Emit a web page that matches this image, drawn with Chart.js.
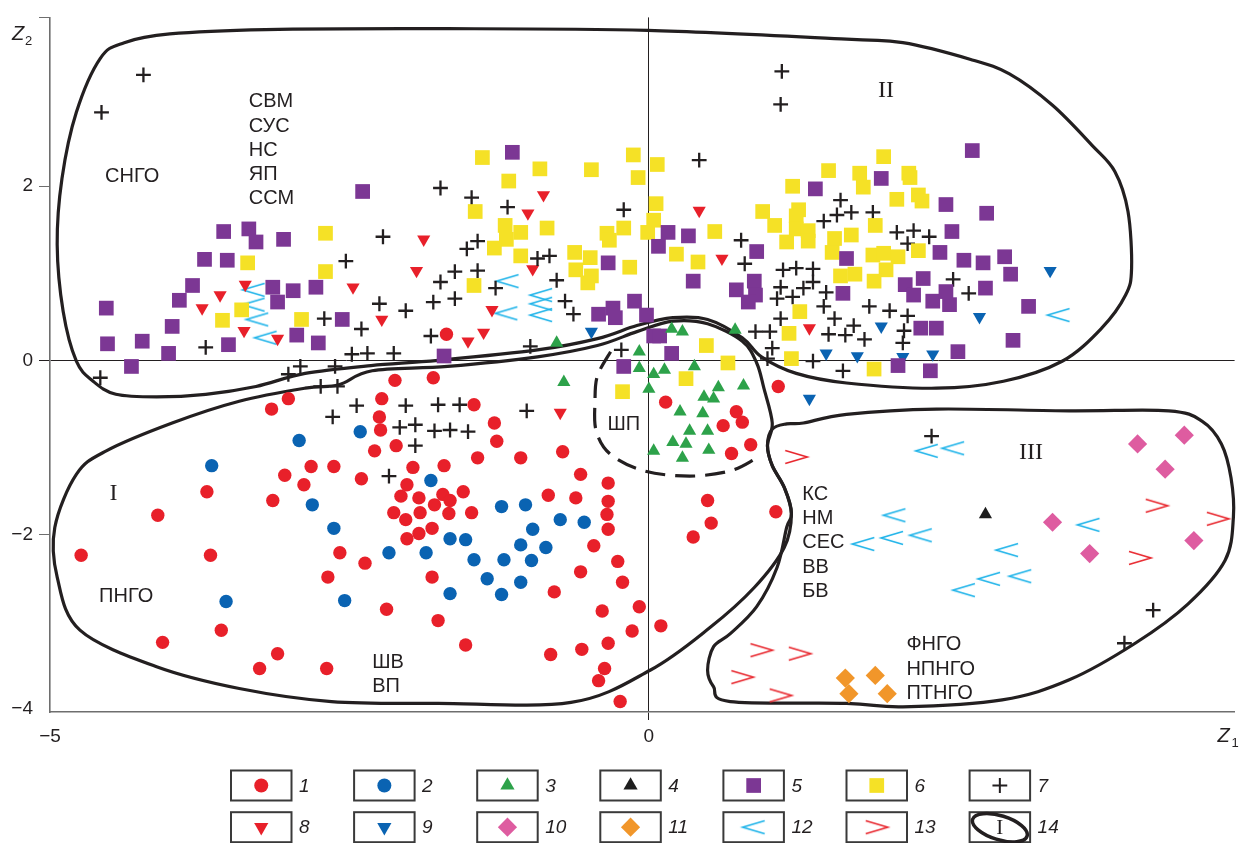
<!DOCTYPE html>
<html>
<head>
<meta charset="utf-8">
<script src="https://cdn.jsdelivr.net/npm/chart.js@4.4.1/dist/chart.umd.min.js"></script>
<style>
  html, body { margin: 0; padding: 0; background: #ffffff; }
  #wrap { width: 1245px; height: 843px; }
</style>
</head>
<body>
<div id="wrap"><canvas id="c" width="1245" height="843"></canvas></div>
<script>
// ---- axis ranges and ticks ----
const xRange = [-5, 4.89];
const yRange = [-4.04, 3.94];
const xTickValues = [-5, 0];
const yTickValues = [-4, -2, 0, 2, 3.94];

// ---- legend labels (series 1..13, item 14 = region outline) ----
const seriesLabels = ['1','2','3','4','5','6','7','8','9','10','11','12','13'];
const outlineLabel = '14';

// ---- point series (Z1, Z2) ----
const s1 = [[-1.69,0.30],[-2.12,-0.23],[-1.80,-0.20],[-3.01,-0.44],[-3.15,-0.56],[-2.23,-0.44],[-2.25,-0.65],[-2.24,-0.80],[-2.29,-1.04],[-2.11,-0.98],[-2.82,-1.22],[-2.63,-1.22],[-3.04,-1.32],[-2.88,-1.43],[-2.40,-1.36],[-1.97,-1.23],[-2.02,-1.43],[-2.07,-1.56],[-1.92,-1.58],[-1.79,-1.66],[-2.13,-1.75],[-2.03,-1.83],[-1.91,-1.75],[-1.81,-1.93],[-1.92,-1.99],[-2.02,-2.05],[-3.14,-1.61],[-3.69,-1.51],[-4.10,-1.78],[-4.74,-2.24],[-3.66,-2.24],[-2.58,-2.21],[-2.37,-2.33],[-2.68,-2.49],[-1.81,-2.49],[-2.19,-2.86],[-3.57,-3.10],[-4.06,-3.24],[-3.10,-3.37],[-3.25,-3.54],[-2.69,-3.54],[-1.46,-0.51],[-1.29,-0.72],[-1.27,-0.93],[-1.43,-1.12],[-1.07,-1.12],[-0.72,-1.05],[-1.71,-1.21],[-0.57,-1.31],[-0.34,-1.41],[-1.72,-1.54],[-1.66,-1.61],[-1.55,-1.51],[-1.67,-1.76],[-1.48,-1.75],[-0.84,-1.55],[-0.61,-1.58],[-0.34,-1.62],[-0.35,-1.77],[-0.34,-1.94],[-0.46,-2.13],[-0.26,-2.31],[-0.57,-2.43],[-0.22,-2.55],[-0.79,-2.66],[-1.76,-2.99],[-0.39,-2.88],[-0.08,-2.83],[0.10,-3.05],[-0.14,-3.11],[-1.53,-3.27],[-0.82,-3.38],[-0.56,-3.32],[-0.34,-3.25],[-0.37,-3.54],[-0.42,-3.68],[-0.24,-3.92],[0.14,-0.48],[0.73,-0.59],[0.78,-0.71],[0.62,-0.75],[0.85,-0.97],[0.69,-1.07],[1.08,-0.30],[0.49,-1.61],[0.52,-1.87],[0.37,-2.03],[1.06,-1.74]];
const s2 = [[-2.41,-0.82],[-2.92,-0.92],[-3.65,-1.21],[-2.81,-1.66],[-2.63,-1.93],[-1.82,-1.38],[-2.17,-2.21],[-1.86,-2.21],[-2.54,-2.76],[-3.53,-2.77],[-1.23,-1.68],[-1.03,-1.66],[-0.74,-1.83],[-0.54,-1.86],[-0.97,-1.94],[-1.66,-2.05],[-1.53,-2.06],[-1.07,-2.12],[-0.86,-2.15],[-1.46,-2.29],[-1.21,-2.29],[-0.98,-2.30],[-1.35,-2.51],[-1.07,-2.55],[-1.23,-2.69],[-1.66,-2.68]];
const s3 = [[-0.77,0.20],[-0.08,0.10],[0.19,0.36],[0.28,0.33],[0.72,0.35],[-0.71,-0.25],[-0.08,-0.09],[0.04,-0.16],[0.13,-0.11],[0.38,-0.07],[0.00,-0.33],[0.58,-0.31],[0.79,-0.29],[0.46,-0.42],[0.54,-0.44],[0.26,-0.59],[0.45,-0.61],[0.34,-0.81],[0.49,-0.81],[0.20,-0.94],[0.31,-0.96],[0.04,-1.04],[0.28,-1.12],[0.50,-1.03]];
const s4 = [[2.81,-1.77]];
const s5 = [[-2.39,1.94],[-3.55,1.48],[-3.34,1.51],[-3.28,1.36],[-3.05,1.39],[-3.71,1.16],[-3.52,1.15],[-3.81,0.86],[-3.92,0.69],[-4.53,0.60],[-3.14,0.84],[-2.97,0.80],[-2.78,0.84],[-3.10,0.67],[-2.56,0.47],[-3.98,0.39],[-4.52,0.19],[-4.23,0.22],[-4.01,0.08],[-3.51,0.18],[-2.94,0.29],[-2.76,0.20],[-4.32,-0.07],[-1.71,0.05],[-1.14,2.39],[1.39,1.97],[0.16,1.47],[0.33,1.43],[0.08,1.31],[-0.34,1.12],[0.37,0.91],[0.73,0.81],[0.88,0.91],[0.89,0.75],[0.83,0.67],[0.90,1.25],[-0.12,0.68],[-0.30,0.60],[-0.42,0.53],[-0.28,0.49],[-0.02,0.52],[0.04,0.28],[0.09,0.28],[0.19,0.08],[-0.21,-0.07],[1.65,1.17],[1.62,0.77],[2.70,2.41],[1.94,2.09],[2.48,1.79],[2.82,1.69],[2.53,1.48],[2.43,1.24],[2.63,1.15],[2.79,1.12],[2.97,1.19],[3.02,0.99],[2.81,0.83],[3.17,0.62],[2.14,0.87],[2.29,0.94],[2.21,0.75],[2.37,0.68],[2.48,0.79],[2.51,0.64],[2.27,0.37],[2.40,0.37],[3.04,0.23],[2.58,0.10],[2.08,-0.06],[2.35,-0.12]];
const s6 = [[-3.35,1.12],[-2.70,1.46],[-2.70,1.02],[-3.40,0.58],[-3.56,0.46],[-2.90,0.47],[-1.39,2.33],[-0.91,2.20],[-1.17,2.06],[-0.48,2.19],[-0.13,2.36],[-0.09,2.10],[0.07,2.25],[0.06,1.80],[0.04,1.61],[-0.01,1.47],[-1.45,1.71],[-1.20,1.55],[-1.07,1.47],[-0.85,1.52],[-1.19,1.39],[-1.29,1.29],[-1.07,1.20],[-0.35,1.46],[-0.33,1.38],[-0.21,1.52],[-0.62,1.24],[-0.49,1.18],[-0.61,1.04],[-0.48,0.97],[-0.51,0.89],[-0.16,1.07],[-1.46,0.86],[0.23,1.22],[0.41,1.13],[0.55,1.48],[0.48,0.17],[0.66,-0.03],[1.17,0.31],[1.19,0.02],[1.26,0.56],[0.95,1.71],[1.05,1.55],[1.20,2.00],[1.25,1.73],[1.23,1.66],[1.23,1.51],[1.33,1.49],[1.15,1.36],[1.33,1.37],[1.50,2.18],[1.55,1.40],[1.53,1.24],[1.60,0.97],[1.96,2.34],[1.76,2.15],[1.79,1.99],[2.17,2.15],[2.18,2.10],[2.07,1.85],[2.25,1.90],[2.28,1.83],[1.89,1.55],[1.69,1.44],[1.87,1.21],[1.96,1.23],[2.08,1.19],[2.25,1.26],[1.98,1.04],[1.88,0.91],[1.72,0.99],[1.88,-0.10],[-0.22,-0.36],[0.31,-0.21]];
const s7 = [[-4.22,3.28],[-4.57,2.85],[-1.74,1.98],[-2.22,1.42],[-2.53,1.14],[-1.74,0.90],[-2.25,0.65],[-2.03,0.57],[-1.80,0.67],[-2.71,0.48],[-2.40,0.36],[-1.82,0.28],[-3.70,0.15],[-2.48,0.07],[-2.35,0.08],[-2.13,0.08],[1.11,3.32],[1.10,2.94],[0.42,2.30],[-1.48,1.87],[-1.18,1.76],[-0.21,1.73],[-1.43,1.37],[-1.52,1.28],[-0.93,1.17],[-0.83,1.20],[-1.62,1.02],[-1.43,1.03],[-1.28,0.83],[-0.77,0.92],[-1.62,0.71],[-0.70,0.68],[-0.63,0.53],[-0.99,0.16],[-0.23,0.12],[0.77,1.38],[0.80,1.11],[1.60,1.84],[1.57,1.67],[1.46,1.60],[1.12,1.04],[1.23,1.06],[1.37,1.05],[1.10,0.84],[1.29,0.83],[1.37,0.90],[1.48,0.78],[1.07,0.71],[1.20,0.73],[1.46,0.62],[1.55,0.48],[1.10,0.48],[0.89,0.33],[1.01,0.33],[1.50,0.30],[1.64,0.29],[1.03,0.14],[0.99,0.02],[1.37,-0.01],[1.69,1.70],[1.87,1.70],[2.07,1.47],[2.21,1.49],[2.34,1.42],[2.16,1.34],[2.54,0.93],[2.67,0.77],[1.84,0.62],[2.01,0.57],[2.16,0.51],[1.71,0.40],[1.80,0.24],[2.13,0.34],[2.12,0.20],[1.62,-0.12],[-4.58,-0.20],[-3.01,-0.16],[-2.91,-0.07],[-2.62,-0.07],[-2.74,-0.30],[-2.60,-0.30],[-2.44,-0.52],[-2.64,-0.65],[-2.03,-0.52],[-2.08,-0.77],[-1.95,-0.74],[-1.79,-0.81],[-1.95,-0.98],[-2.17,-1.33],[-1.76,-0.51],[-1.58,-0.51],[-1.02,-0.58],[-1.66,-0.80],[-1.51,-0.82],[2.36,-0.87],[4.21,-2.87],[3.97,-3.25]];
const s8 = [[-1.88,1.39],[-1.94,1.03],[-2.47,0.84],[-3.58,0.75],[-3.73,0.60],[-3.37,0.87],[-3.38,0.34],[-3.10,0.25],[-2.23,0.47],[-0.88,1.90],[-1.01,1.69],[-0.97,1.05],[-1.31,0.58],[-1.38,0.32],[-1.51,0.22],[0.42,1.72],[0.61,1.17],[1.34,0.37],[-0.74,-0.60]];
const s9 = [[-0.48,0.33],[1.48,0.08],[3.35,1.03],[2.76,0.50],[1.94,0.39],[1.74,0.05],[2.12,0.04],[2.37,0.07],[1.34,-0.44]];
const s10 = [[4.08,-0.96],[4.47,-0.86],[4.31,-1.25],[3.37,-1.86],[3.68,-2.22],[4.55,-2.07]];
const s11 = [[1.64,-3.65],[1.89,-3.62],[1.67,-3.83],[1.99,-3.83]];
const s12 = [[-3.30,0.81],[-3.30,0.64],[-3.27,0.47],[-3.20,0.26],[-1.18,0.91],[-0.90,0.75],[-0.90,0.65],[-0.90,0.52],[-1.19,0.54],[3.42,0.52],[2.32,-1.04],[2.54,-1.01],[2.05,-1.78],[1.79,-2.11],[2.03,-2.04],[2.27,-2.01],[2.99,-2.18],[2.84,-2.51],[3.10,-2.48],[2.63,-2.64],[3.67,-1.89]];
const s13 = [[1.23,-1.11],[0.94,-3.33],[1.26,-3.37],[0.78,-3.64],[1.10,-3.85],[4.24,-1.67],[4.75,-1.82],[4.10,-2.27]];

// ---- region outlines (Z1, Z2) ----
const regionI = [[-4.96,-1.92],[-4.78,-1.31],[-4.53,-1.04],[-3.98,-0.72],[-3.42,-0.47],[-2.87,-0.32],[-2.59,-0.28],[-2.31,-0.12],[-1.68,-0.07],[-0.93,0.04],[-0.43,0.17],[-0.10,0.33],[0.20,0.45],[0.49,0.42],[0.78,0.22],[0.90,-0.03],[0.96,-0.32],[1.03,-0.72],[0.99,-0.98],[1.03,-1.21],[1.13,-1.46],[1.19,-1.76],[1.13,-2.15],[0.88,-2.61],[0.51,-3.07],[0.01,-3.56],[-0.65,-3.93],[-1.76,-3.94],[-2.65,-3.92],[-3.42,-3.77],[-4.11,-3.52],[-4.75,-3.10],[-4.94,-2.49]];
const regionII = [[-4.38,3.65],[-4.00,3.75],[-3.20,3.80],[-1.68,3.81],[-0.01,3.79],[1.65,3.69],[2.12,3.65],[2.68,3.46],[3.01,3.29],[3.37,2.93],[3.70,2.47],[3.89,2.17],[4.00,1.71],[4.03,1.06],[3.98,0.75],[3.78,0.37],[3.45,-0.01],[2.96,-0.24],[2.40,-0.32],[1.65,-0.26],[1.23,-0.15],[0.94,0.04],[0.78,0.26],[0.49,0.47],[0.20,0.49],[-0.10,0.40],[-0.43,0.25],[-0.93,0.12],[-1.76,0.00],[-2.32,-0.06],[-2.87,-0.15],[-3.28,-0.30],[-3.70,-0.39],[-4.11,-0.42],[-4.45,-0.39],[-4.64,-0.24],[-4.78,-0.01],[-4.89,0.56],[-4.94,1.33],[-4.90,2.09],[-4.78,2.85],[-4.58,3.47]];
const regionIII = [[1.03,-0.79],[1.15,-0.73],[1.29,-0.72],[1.65,-0.62],[2.40,-0.56],[3.51,-0.58],[4.34,-0.58],[4.62,-0.70],[4.78,-0.96],[4.86,-1.35],[4.88,-1.80],[4.81,-2.30],[4.50,-2.80],[4.06,-3.25],[3.51,-3.67],[2.95,-3.90],[2.12,-3.98],[1.65,-3.94],[0.68,-3.92],[0.54,-3.75],[0.49,-3.56],[0.54,-3.29],[0.68,-3.14],[0.90,-2.83],[1.07,-2.38],[1.15,-1.92],[1.19,-1.76],[1.13,-1.46],[1.03,-1.21],[0.99,-0.98]];
const zoneShp = [[-0.32,0.10],[-0.43,-0.18],[-0.45,-0.47],[-0.44,-0.81],[-0.32,-1.08],[-0.04,-1.27],[0.34,-1.33],[0.68,-1.27],[0.88,-1.14]];

// ---- text annotations (anchor in Z1, Z2) ----
const groupLabels = [
  { lines: ['СНГО'], x: -4.54, y: 2.11, align: 'left' },
  { lines: ['СВМ', 'СУС', 'НС', 'ЯП', 'ССМ'], x: -3.34, y: 2.97, align: 'left' },
  { lines: ['ПНГО'], x: -4.59, y: -2.71, align: 'left' },
  { lines: ['ШВ', 'ВП'], x: -2.31, y: -3.47, align: 'left' },
  { lines: ['ШП'], x: -0.21, y: -0.74, align: 'center' },
  { lines: ['КС', 'НМ', 'СЕС', 'ВВ', 'БВ'], x: 1.28, y: -1.54, align: 'left' },
  { lines: ['ФНГО', 'НПНГО', 'ПТНГО'], x: 2.15, y: -3.27, align: 'left' }
];
const regionNames = [
  { text: 'I', x: -4.47, y: -1.53 },
  { text: 'II', x: 1.98, y: 3.10 },
  { text: 'III', x: 3.19, y: -1.06 }
];

// ---- drawing helpers ----
const INK = '#231f20';
const SANS = '"Liberation Sans", Arial, Helvetica, sans-serif';
const SERIF = '"Liberation Serif", "Times New Roman", serif';

function chevron(dir, color) {
  const c = document.createElement('canvas');
  c.width = 30; c.height = 20;
  const g = c.getContext('2d');
  g.strokeStyle = color; g.lineWidth = 1.6; g.lineJoin = 'miter'; g.miterLimit = 10;
  g.beginPath();
  if (dir === '<') { g.moveTo(26, 3.5); g.lineTo(4, 10); g.lineTo(26, 16.5); }
  else { g.moveTo(4, 3.5); g.lineTo(26, 10); g.lineTo(4, 16.5); }
  g.stroke();
  return c;
}

const seriesStyles = [
  { data: s1, style: 'circle', r: 6.7, color: '#e8202a' },
  { data: s2, style: 'circle', r: 6.7, color: '#0a63b2' },
  { data: s3, style: 'triangle', r: 7.6, color: '#2da24a' },
  { data: s4, style: 'triangle', r: 7.6, color: '#1e1e1e' },
  { data: s5, style: 'rect', r: 10.4, color: '#7c3794' },
  { data: s6, style: 'rect', r: 10.4, color: '#f5e126' },
  { data: s7, style: 'cross', r: 7.4, color: INK, line: 2.3 },
  { data: s8, style: 'triangle', r: 7.6, color: '#e8202a', rot: 180 },
  { data: s9, style: 'triangle', r: 7.6, color: '#0a63b2', rot: 180 },
  { data: s10, style: 'rectRot', r: 9.6, color: '#de5ca0' },
  { data: s11, style: 'rectRot', r: 9.6, color: '#f1962a' },
  { data: s12, style: chevron('<', '#1db3e9'), r: 10, color: '#1db3e9' },
  { data: s13, style: chevron('>', '#e8262d'), r: 10, color: '#e8262d' }
];

function tracePath(ctx, pts, closed) {
  const n = pts.length;
  const P = i => closed ? pts[(i + n) % n] : pts[Math.max(0, Math.min(n - 1, i))];
  ctx.moveTo(pts[0][0], pts[0][1]);
  const segs = closed ? n : n - 1;
  for (let i = 0; i < segs; i++) {
    const p0 = P(i - 1), p1 = P(i), p2 = P(i + 1), p3 = P(i + 2);
    ctx.bezierCurveTo(
      p1[0] + (p2[0] - p0[0]) / 6, p1[1] + (p2[1] - p0[1]) / 6,
      p2[0] - (p3[0] - p1[0]) / 6, p2[1] - (p3[1] - p1[1]) / 6,
      p2[0], p2[1]);
  }
  if (closed) ctx.closePath();
}

// region outlines, drawn under the points
const outlinePlugin = {
  id: 'outlines',
  beforeDatasetsDraw(chart) {
    const { ctx, scales: { x, y } } = chart;
    const px = pts => pts.map(p => [x.getPixelForValue(p[0]), y.getPixelForValue(p[1])]);
    ctx.save();
    ctx.strokeStyle = INK;
    ctx.lineWidth = 3.2;
    ctx.lineJoin = 'round';
    [regionI, regionII, regionIII].forEach(r => {
      ctx.beginPath(); tracePath(ctx, px(r), true); ctx.stroke();
    });
    ctx.setLineDash([20, 10]);
    ctx.beginPath(); tracePath(ctx, px(zoneShp), false); ctx.stroke();
    ctx.restore();
  }
};

// group names, region numerals, axis titles and the boxed legend
const annotationPlugin = {
  id: 'annotations',
  afterDraw(chart) {
    const { ctx, chartArea, scales: { x, y } } = chart;
    ctx.save();
    ctx.fillStyle = INK;
    ctx.textBaseline = 'middle';
    ctx.font = '20px ' + SANS;
    groupLabels.forEach(g => {
      ctx.textAlign = g.align;
      const x0 = x.getPixelForValue(g.x), y0 = y.getPixelForValue(g.y);
      g.lines.forEach((t, i) => ctx.fillText(t, x0, y0 + i * 24.2));
    });
    ctx.font = '24px ' + SERIF;
    ctx.textAlign = 'center';
    regionNames.forEach(r => ctx.fillText(r.text, x.getPixelForValue(r.x), y.getPixelForValue(r.y)));

    // axis titles
    ctx.textAlign = 'left';
    ctx.textBaseline = 'alphabetic';
    ctx.font = 'italic 20px ' + SANS;
    ctx.fillText('Z', chartArea.left - 38, chartArea.top + 23);
    ctx.fillText('Z', chartArea.right - 17, chartArea.bottom + 30);
    ctx.font = '13px ' + SANS;
    ctx.fillText('2', chartArea.left - 25, chartArea.top + 28);
    ctx.fillText('1', chartArea.right - 3, chartArea.bottom + 35);

    // legend
    const items = seriesStyles.map((s, i) => ({ s, label: seriesLabels[i] }));
    items.push({ outline: true, label: outlineLabel });
    items.forEach((it, i) => {
      const col = i % 7, row = Math.floor(i / 7);
      const bx = 231 + col * 123.1, by = 770.5 + row * 41.7;
      const cx = bx + 30.25, cy = by + 15;
      ctx.lineWidth = 2;
      ctx.strokeStyle = '#3a3a3a';
      ctx.setLineDash([]);
      ctx.strokeRect(bx, by, 60.5, 30);
      if (it.outline) {
        ctx.save();
        ctx.strokeStyle = INK;
        ctx.lineWidth = 3.5;
        ctx.beginPath();
        ctx.ellipse(cx, cy + 0.5, 28.5, 12, 0.3, 0, Math.PI * 2);
        ctx.stroke();
        ctx.fillStyle = INK;
        ctx.font = '21px ' + SERIF;
        ctx.textAlign = 'center';
        ctx.textBaseline = 'middle';
        ctx.fillText('I', cx, cy + 1);
        ctx.restore();
      } else {
        const s = it.s;
        ctx.save();
        ctx.fillStyle = s.color;
        ctx.strokeStyle = s.color;
        Chart.helpers.drawPoint(ctx, {
          pointStyle: s.style,
          radius: s.style === 'circle' ? 7 : (s.style === 'triangle' ? 8.2 : s.r),
          rotation: s.rot || 0,
          borderWidth: s.line || 0
        }, cx, cy);
        ctx.restore();
      }
      ctx.fillStyle = INK;
      ctx.font = 'italic 19px ' + SANS;
      ctx.textAlign = 'left';
      ctx.textBaseline = 'middle';
      ctx.fillText(it.label, bx + 68, cy + 1);
    });
    ctx.restore();
  }
};

const fmt = v => (v === yRange[1] ? '' : (v < 0 ? '\u2212' + Math.abs(v) : String(v)));

new Chart(document.getElementById('c'), {
  type: 'scatter',
  data: {
    datasets: seriesStyles.map((s, i) => ({
      label: seriesLabels[i],
      data: s.data,
      pointStyle: s.style,
      pointRadius: s.r,
      pointHoverRadius: s.r,
      pointRotation: s.rot || 0,
      backgroundColor: s.color,
      borderColor: s.color,
      borderWidth: s.line || 0,
      showLine: false,
      clip: false
    }))
  },
  options: {
    responsive: false,
    animation: false,
    devicePixelRatio: 1,
    layout: { padding: { top: 15, right: 5, left: 0, bottom: 0 } },
    plugins: { legend: { display: false }, tooltip: { enabled: false } },
    scales: {
      x: {
        type: 'linear',
        min: xRange[0], max: xRange[1],
        afterBuildTicks: a => { a.ticks = xTickValues.map(v => ({ value: v })); },
        afterFit: s => { s.height = 131; },
        border: { display: true, color: '#6e6e6e', width: 1.6 },
        grid: {
          color: c => (c.tick && c.tick.value === 0 ? INK : 'rgba(0,0,0,0)'),
          tickColor: c => (c.tick && c.tick.value === 0 ? INK : 'rgba(0,0,0,0)'),
          lineWidth: 1,
          tickLength: 8
        },
        ticks: {
          autoSkip: false, maxRotation: 0, padding: 5,
          color: INK, font: { family: SANS, size: 19 },
          callback: v => fmt(v)
        }
      },
      y: {
        type: 'linear',
        min: yRange[0], max: yRange[1],
        afterBuildTicks: a => { a.ticks = yTickValues.map(v => ({ value: v })); },
        afterFit: s => { s.width = 50; },
        border: { display: true, color: '#6e6e6e', width: 1.6 },
        grid: {
          color: c => (c.tick && c.tick.value === 0 ? INK : 'rgba(0,0,0,0)'),
          tickColor: c => {
            const v = c.tick && c.tick.value;
            if (v === 0) return INK;
            if (v === -4) return 'rgba(0,0,0,0)';
            return '#6e6e6e';
          },
          lineWidth: 1,
          tickLength: 11
        },
        ticks: {
          autoSkip: false, padding: 6,
          color: INK, font: { family: SANS, size: 19 },
          callback: v => fmt(v)
        }
      }
    }
  },
  plugins: [outlinePlugin, annotationPlugin]
});
</script>
</body>
</html>
